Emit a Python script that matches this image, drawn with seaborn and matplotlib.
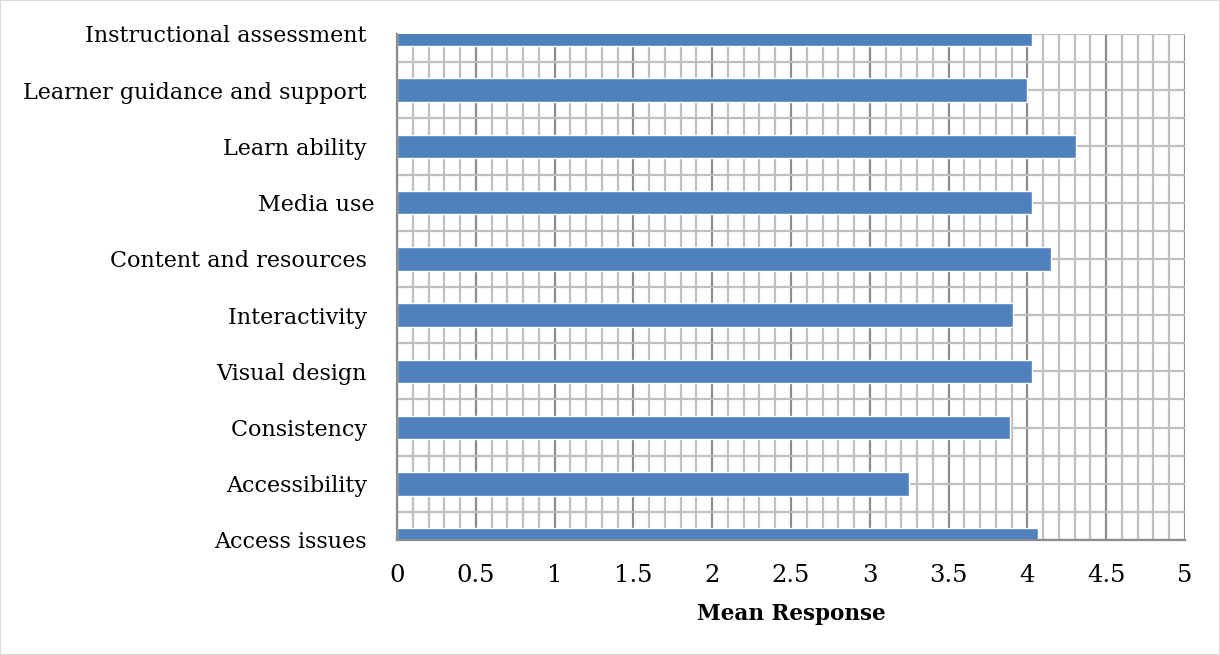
import matplotlib
matplotlib.use("Agg")
import matplotlib.pyplot as plt
from matplotlib.ticker import MultipleLocator
import pandas as pd
import seaborn as sns

# categories listed top to bottom as in the chart
categories = [
    "Instructional assessment ",
    "Learner guidance and support ",
    "Learn ability ",
    "Media use",
    "Content and resources ",
    "Interactivity ",
    "Visual design ",
    "Consistency ",
    "Accessibility ",
    "Access issues ",
]
mean_response = [4.03, 4.00, 4.31, 4.03, 4.15, 3.91, 4.03, 3.89, 3.25, 4.07]

df = pd.DataFrame({"Area": categories, "Mean": mean_response})

sns.set_style("white")
plt.rcParams["font.family"] = ["DejaVu Serif"]
plt.rcParams["text.color"] = "black"
plt.rcParams["axes.labelcolor"] = "black"
plt.rcParams["xtick.labelcolor"] = "black"
plt.rcParams["ytick.labelcolor"] = "black"

fig = plt.figure(figsize=(12.2, 6.55), dpi=100, edgecolor="#d9d9d9", linewidth=1.2)
ax = fig.add_axes([397 / 1220, 1 - 540 / 655, (1185 - 397) / 1220, (540 - 34) / 655])

sns.barplot(data=df, x="Mean", y="Area", orient="h", color="#4F81BD",
            width=0.42, saturation=1, ax=ax, zorder=3)

ax.set_xlim(0, 5)
ax.set_ylim(len(categories) - 1, 0)

# grid lines
ax.xaxis.set_major_locator(MultipleLocator(0.5))
ax.xaxis.set_minor_locator(MultipleLocator(0.1))
ax.yaxis.set_minor_locator(MultipleLocator(0.5))
ax.grid(which="minor", axis="both", color="#bfbfbf", linewidth=1.6, zorder=0)
ax.grid(which="major", axis="x", color="#8c8c8c", linewidth=1.6, zorder=1)
ax.grid(which="major", axis="y", color="#bfbfbf", linewidth=1.6, zorder=0)
ax.set_axisbelow(True)

for s in ["top", "right"]:
    ax.spines[s].set_visible(False)
for s in ["left", "bottom"]:
    ax.spines[s].set_color("#8c8c8c")
    ax.spines[s].set_linewidth(1.6)
    ax.spines[s].set_zorder(4)

ax.tick_params(axis="y", which="major", direction="out", length=5, width=1.5,
               color="#8c8c8c", pad=11.5, labelsize=16)
ax.tick_params(axis="x", which="major", direction="out", length=5, width=1.5,
               color="#8c8c8c", pad=12, labelsize=17.5)
ax.tick_params(which="minor", length=0)
ax.set_xticks([0, 0.5, 1, 1.5, 2, 2.5, 3, 3.5, 4, 4.5, 5])
ax.set_xticklabels(["0", "0.5", "1", "1.5", "2", "2.5", "3", "3.5", "4", "4.5", "5"])

ax.set_ylabel("")
ax.set_xlabel("Mean Response", fontsize=15.5, fontweight="bold", labelpad=12)

fig.savefig("out.png", dpi=100, edgecolor=fig.get_edgecolor())
